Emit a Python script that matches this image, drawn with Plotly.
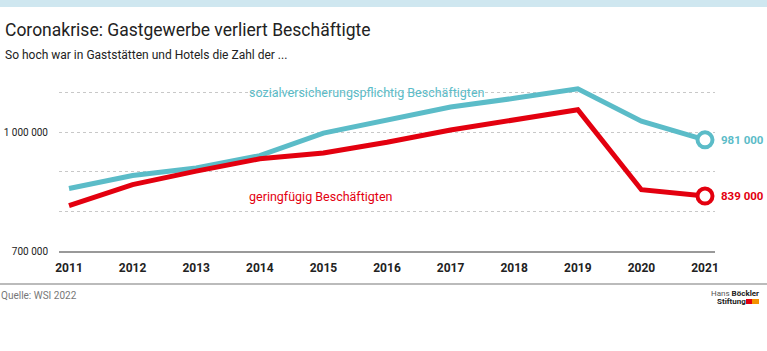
import plotly.graph_objects as go

years = [2011, 2012, 2013, 2014, 2015, 2016, 2017, 2018, 2019, 2020, 2021]
sv_pflichtig = [858000, 891000, 910000, 941000, 998000, 1032000, 1064000, 1086000, 1110000, 1028000, 981000]
geringfuegig = [815000, 868000, 902000, 933000, 948000, 975000, 1006000, 1033000, 1057000, 855000, 839000]
y_ticks = [700000, 800000, 900000, 1000000, 1100000]
y_tick_text = ["700 000", "", "", "1 000 000", ""]

TEAL = "#5bbcc8"
RED = "#e3000f"
FONT = "Roboto, Liberation Sans, Arial, sans-serif"

W, H = 767, 351
ML, MR, MT, MB = 59, 52, 73, 100
PW, PH = W - ML - MR, H - MT - MB

def px(x):
    return (x - ML) / PW

def py(y):
    return (H - MB - y) / PH

fig = go.Figure()
fig.add_trace(go.Scatter(x=years, y=sv_pflichtig, mode="lines", line=dict(color=TEAL, width=5),
                         hoverinfo="skip", showlegend=False))
fig.add_trace(go.Scatter(x=years, y=geringfuegig, mode="lines", line=dict(color=RED, width=5),
                         hoverinfo="skip", showlegend=False))
fig.add_trace(go.Scatter(x=[years[-1]], y=[sv_pflichtig[-1]], mode="markers",
                         marker=dict(size=15, color="white", line=dict(color=TEAL, width=4)),
                         hoverinfo="skip", showlegend=False))
fig.add_trace(go.Scatter(x=[years[-1]], y=[geringfuegig[-1]], mode="markers",
                         marker=dict(size=15, color="white", line=dict(color=RED, width=4)),
                         hoverinfo="skip", showlegend=False))

shapes = [
    # top band
    dict(type="rect", xref="paper", yref="paper", x0=px(0), x1=px(W), y0=py(7), y1=py(0),
         fillcolor="#cfe7f0", line=dict(width=0), layer="above"),
    # footer line
    dict(type="line", xref="paper", yref="paper", x0=px(0), x1=px(W), y0=py(284), y1=py(284),
         line=dict(color="#bbbbbb", width=2)),
    # gap in gridline behind label
    dict(type="rect", xref="paper", yref="paper", x0=px(230), x1=px(483), y0=py(100), y1=py(85),
         fillcolor="white", line=dict(width=0), layer="between"),
    # logo squares
    dict(type="rect", xref="paper", yref="paper", x0=px(746), x1=px(752), y0=py(304), y1=py(299),
         fillcolor="#e3000f", line=dict(width=0)),
    dict(type="rect", xref="paper", yref="paper", x0=px(752), x1=px(759), y0=py(304), y1=py(299),
         fillcolor="#f39200", line=dict(width=0)),
]

annotations = [
    dict(text="Coronakrise: Gastgewerbe verliert Beschäftigte", xref="paper", yref="paper",
         x=px(3), y=py(30), xanchor="left", yanchor="middle", showarrow=False,
         font=dict(family=FONT, size=17.5, color="#222222")),
    dict(text="So hoch war in Gaststätten und Hotels die Zahl der ...", xref="paper", yref="paper",
         x=px(3), y=py(55), xanchor="left", yanchor="middle", showarrow=False,
         font=dict(family=FONT, size=12, color="#222222")),
    dict(text="sozialversicherungspflichtig Beschäftigten", xref="paper", yref="paper",
         x=px(247), y=py(92), xanchor="left", yanchor="middle", showarrow=False,
         font=dict(family=FONT, size=12.5, color=TEAL)),
    dict(text="geringfügig Beschäftigten", xref="paper", yref="paper",
         x=px(247), y=py(196), xanchor="left", yanchor="middle", showarrow=False,
         font=dict(family=FONT, size=12.5, color=RED)),
    dict(text=f"{sv_pflichtig[-1]:,}".replace(",", " "), x=years[-1], y=sv_pflichtig[-1],
         xanchor="left", yanchor="middle", xshift=14, showarrow=False,
         font=dict(family=FONT, size=11.5, color=TEAL, weight="bold")),
    dict(text=f"{geringfuegig[-1]:,}".replace(",", " "), x=years[-1], y=geringfuegig[-1],
         xanchor="left", yanchor="middle", xshift=14, showarrow=False,
         font=dict(family=FONT, size=11.5, color=RED, weight="bold")),
    dict(text="Quelle: WSI 2022", xref="paper", yref="paper",
         x=px(-1), y=py(295), xanchor="left", yanchor="middle", showarrow=False,
         font=dict(family=FONT, size=10, color="#777777")),
    dict(text="<span style='font-weight:normal;color:#555'>Hans</span> <b>Böckler</b>", xref="paper", yref="paper",
         x=px(761), y=py(293), xanchor="right", yanchor="middle", showarrow=False,
         font=dict(family=FONT, size=8, color="#222222")),
    dict(text="<b>Stiftung</b>", xref="paper", yref="paper",
         x=px(715), y=py(301.5), xanchor="left", yanchor="middle", showarrow=False,
         font=dict(family=FONT, size=8, color="#222222")),
]

fig.update_layout(
    width=W, height=H,
    margin=dict(l=ML, r=MR, t=MT, b=MB),
    paper_bgcolor="white", plot_bgcolor="white",
    shapes=shapes, annotations=annotations,
    xaxis=dict(range=[years[0] - 10 / 63.6, years[-1] + 10 / 63.6], tickvals=years,
               ticktext=[str(y) for y in years], showgrid=False, zeroline=False,
               showline=True, linecolor="#999999", linewidth=2, automargin=False,
               ticks="outside", ticklen=5, tickcolor="rgba(0,0,0,0)",
               tickfont=dict(family=FONT, size=12, color="#222222", weight="bold")),
    yaxis=dict(range=[700000, 1150000], tickvals=y_ticks, ticktext=y_tick_text,
               showgrid=True, gridcolor="#c8c8c8", griddash="dot", gridwidth=1,
               zeroline=False, showline=False, ticks="outside", ticklen=8,
               tickcolor="rgba(0,0,0,0)", automargin=False,
               tickfont=dict(family=FONT, size=10, color="#222222")),
)

fig.write_html("out.html")
